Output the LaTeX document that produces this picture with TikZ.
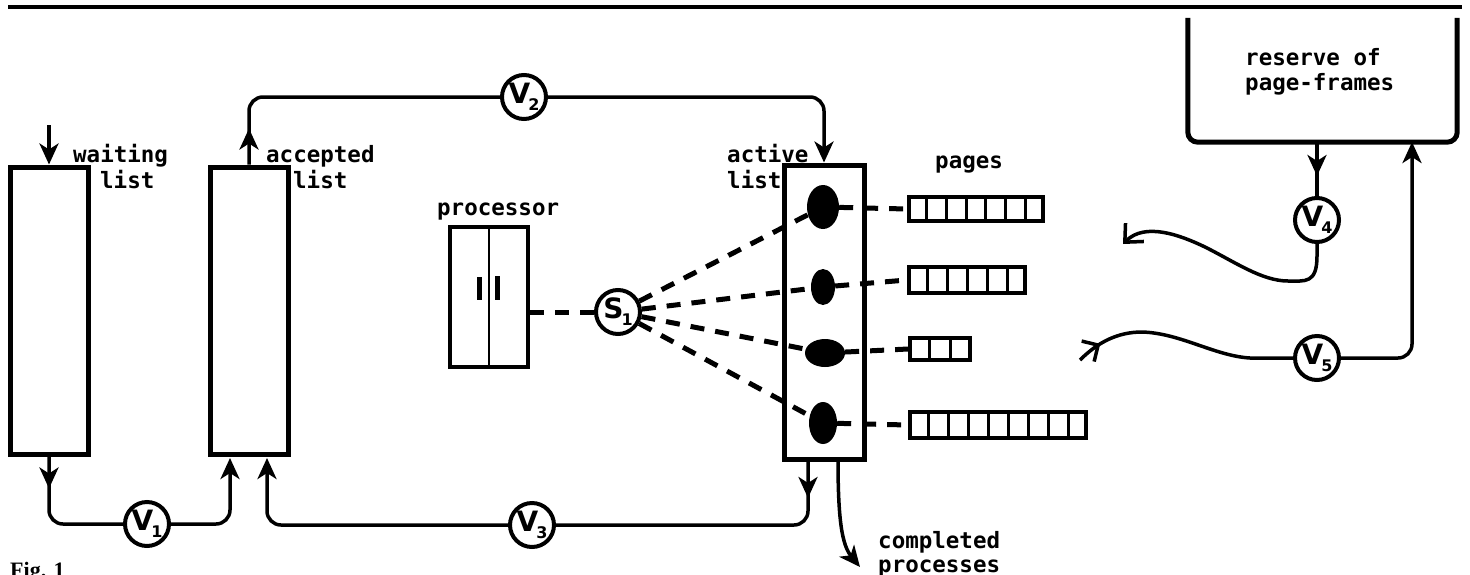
\documentclass[tikz,border=0pt]{standalone}
\usepackage{fontspec}
\usetikzlibrary{arrows.meta,shapes.geometric,decorations.markings,calc}
\newfontfamily\monof{DejaVu Sans Mono Bold}
\newfontfamily\handf{DejaVu Sans}
\newfontfamily\capf{Liberation Serif}
\newcommand{\circlab}[2]{{\handf\bfseries\fontsize{28}{28}\selectfont #1\kern-2pt\raisebox{-7pt}{\fontsize{16}{16}\selectfont #2}}}
\begin{document}
\begin{tikzpicture}[x=1pt,y=-1pt,
 >={Stealth[length=21pt,width=19pt,inset=6pt]},
 lbox/.style={draw,line width=5pt,inner sep=0pt},
 conn/.style={line width=3.5pt,rounded corners=14pt},
 dashln/.style={line width=5pt,dash pattern=on 14pt off 11pt},
 vc/.style={circle,draw,line width=4pt,minimum size=44pt,inner sep=0pt},
 blob/.style={ellipse,fill=black,inner sep=0pt},
 pgbox/.style={draw,line width=4pt,inner sep=0pt},
 cellln/.style={line width=3pt},
 lbl/.style={anchor=base west,inner sep=0pt,font=\monof\fontsize{22.5}{26}\selectfont},
 midarr/.style={postaction={decorate},decoration={markings,mark=at position #1 with {\arrow{>}}}},
]
\useasboundingbox (0,0) rectangle (1470,574);
\fill[white] (0,0) rectangle (1470,574);
\coordinate (ruleL) at (8,7); \coordinate (ruleR) at (1462,7);
\draw[line width=4pt] (ruleL) -- (ruleR);

% list boxes
\node[lbox,minimum width=78pt,minimum height=287pt] (wait) at (49,310.5) {};
\node[lbox,minimum width=78pt,minimum height=287pt] (acc) at (249,310.5) {};
\node[lbox,minimum width=80pt,minimum height=294pt] (act) at (824,312) {};

% processor
\node[draw,line width=4pt,minimum width=78pt,minimum height=140pt,inner sep=0pt] (proc) at (489,297) {};
\draw[line width=2.5pt] (proc.north) -- (proc.south);
\coordinate (m1a) at (479.5,277); \coordinate (m1b) at (479.5,300);
\coordinate (m2a) at (497.5,276); \coordinate (m2b) at (497.5,300);
\draw[line width=4.5pt] (m1a) -- (m1b) (m2a) -- (m2b);

% circles
\node[vc] (V1) at (147,524) {\circlab{V}{1}};
\node[vc] (V2) at (524,97) {\circlab{V}{2}};
\node[vc] (V3) at (532,525) {\circlab{V}{3}};
\node[vc] (V4) at (1317,220) {\circlab{V}{4}};
\node[vc] (V5) at (1317,358) {\circlab{V}{5}};
\node[vc] (S1) at (618,312) {\circlab{S}{1}};

% blobs
\node[blob,minimum width=32pt,minimum height=44pt] (b1) at (823,207) {};
\node[blob,minimum width=24pt,minimum height=36pt] (b2) at (823,287) {};
\node[blob,minimum width=40pt,minimum height=28pt] (b3) at (825,353) {};
\node[blob,minimum width=28pt,minimum height=42pt] (b4) at (823,423) {};

% pages
\node[pgbox,minimum width=134pt,minimum height=24pt] (p1) at (976,209) {};
\node[pgbox,minimum width=116pt,minimum height=26pt] (p2) at (967,280) {};
\node[pgbox,minimum width=60pt,minimum height=22pt] (p3) at (940,349) {};
\node[pgbox,minimum width=176pt,minimum height=26pt] (p4) at (998,425) {};
\foreach \n/\k in {p1/7,p2/6,p3/3,p4/9}{
  \pgfmathtruncatemacro\km{\k-1}
  \foreach \i in {1,...,\km}
    \draw[cellln] ($(\n.north west)!\i/\k!(\n.north east)$) -- ($(\n.south west)!\i/\k!(\n.south east)$);
}

% dashed links
\draw[dashln] (proc.east |- S1) -- (S1);
\foreach \b in {b1,b2,b3,b4} \draw[dashln] (S1) -- (\b);
\draw[dashln] (b1) -- (p1.west);
\draw[dashln] (b2) -- (p2.west);
\draw[dashln] (b3) -- (p3.west);
\draw[dashln] (b4) -- (p4.west);

% reserve of page-frames
\node[minimum width=269pt,minimum height=124pt,inner sep=0pt] (res) at (1322.5,80) {};
\draw[line width=5pt,rounded corners=10pt] (res.north west) -- (res.south west) -- (res.south east) -- (res.north east);

% connectors
\coordinate (win) at (49,125);
\draw[conn,->] (win) -- (wait.north);
\draw[conn,midarr=36pt] (acc.north) -- (acc.north |- V2) -- (V2);
\draw[conn,->] (V2) -- (V2 -| act.north) -- (act.north);
\draw[conn,midarr=32pt] (wait.south) -- (wait.south |- V1) -- (V1);
\coordinate (accin1) at (230,458);
\draw[conn,->] (V1) -- (V1 -| accin1) -- (accin1);
\coordinate (actout) at (808,460);
\draw[conn,midarr=38pt] (actout) -- (actout |- V3) -- (V3);
\coordinate (accin2) at (267,458);
\draw[conn,->] (V3) -- (V3 -| accin2) -- (accin2);
\coordinate (compout) at (838,460);
\coordinate (comptip) at (860,567);
\draw[line width=3.5pt,->] (compout) .. controls (838,520) and (842,545) .. (comptip);
\coordinate (resout) at (1317,142);
\draw[line width=3.5pt,midarr=34pt] (resout) -- (V4);
\coordinate (v4tip) at (1123,244);
\draw[line width=3.5pt,-{Straight Barb[length=14pt,width=26pt]}] (V4.south) -- ++(0,12) .. controls +(0,28) and (1305,281) .. (1288,281) .. controls (1262,281) and (1235,262) .. (1205,247) .. controls (1180,235) and (1145,222) .. (v4tip);
\coordinate (resin) at (1412,142);
\draw[conn,->] (V5) -- (V5 -| resin) -- (resin);
\coordinate (v5start) at (1080,360);
\draw[line width=3.5pt,postaction={decorate},decoration={markings,mark=at position 26pt with {\arrow{Straight Barb[length=12pt,width=24pt]}}}] (v5start) .. controls (1098,342) and (1118,332) .. (1142,332) .. controls (1180,333) and (1215,356) .. (1250,358) -- (V5);

% labels
\node[lbl] (tw1) at (73,162) {waiting};
\node[lbl] (tw2) at (100,188) {list};
\node[lbl] (ta1) at (266,162) {accepted};
\node[lbl] (ta2) at (293,188) {list};
\node[lbl] (tc1) at (727,162) {active};
\node[lbl] (tc2) at (727,188) {list};
\node[lbl] (tpg) at (935,168) {pages};
\node[lbl] (tpr) at (437,215) {processor};
\node[lbl] (tr1) at (1245,65) {reserve of};
\node[lbl] (tr2) at (1245,90) {page-frames};
\node[lbl] (tcp1) at (878,548) {completed};
\node[lbl] (tcp2) at (878,572) {processes};
\node[anchor=base west,inner sep=0pt,font=\capf\bfseries\fontsize{22}{22}\selectfont] (fig) at (10,577) {Fig. 1};
\end{tikzpicture}
\end{document}
